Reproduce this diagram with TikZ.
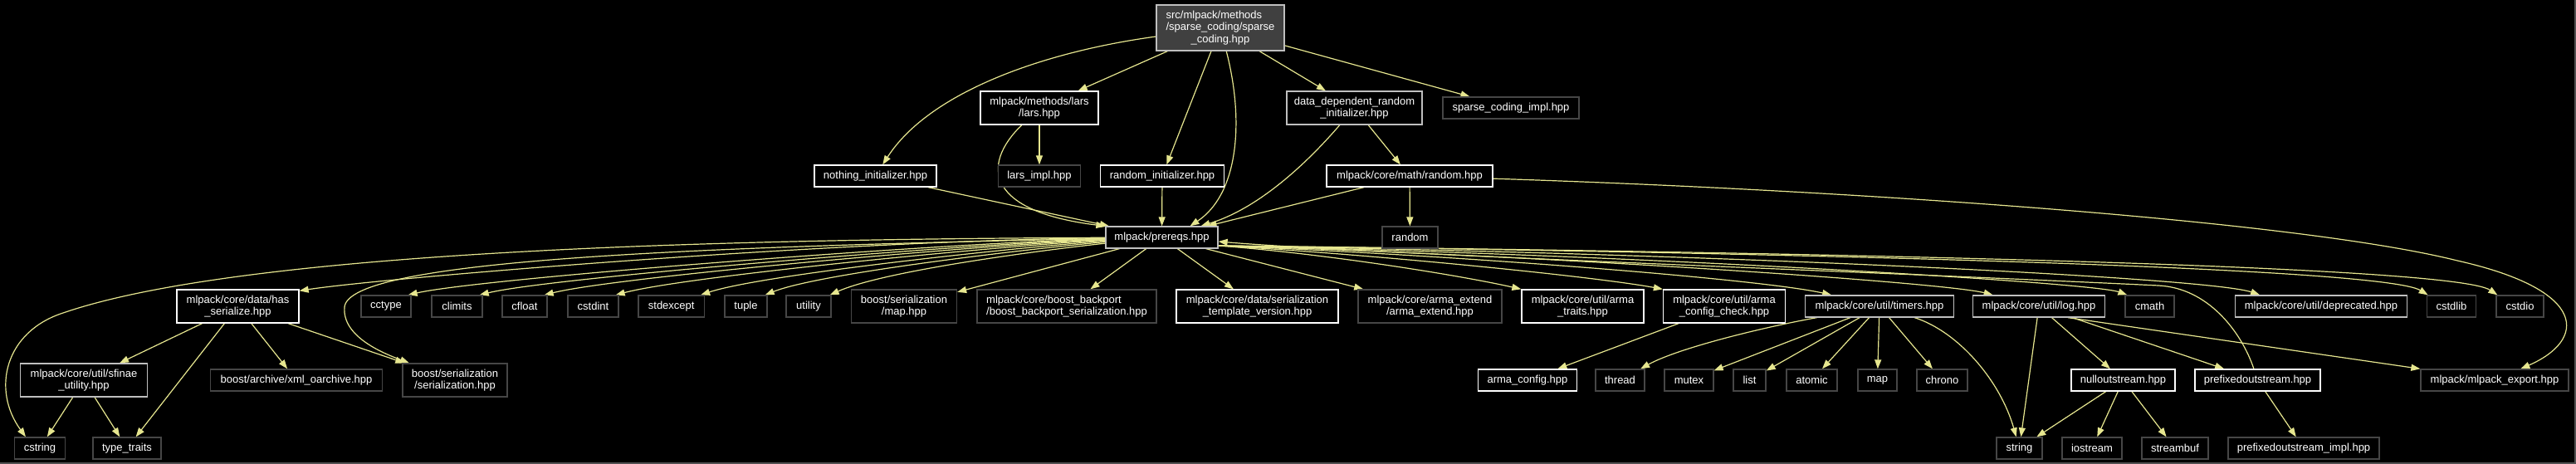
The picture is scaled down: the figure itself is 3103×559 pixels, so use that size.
\documentclass[tikz,border=0pt]{standalone}
\usepackage{fontspec}
\setmainfont{Liberation Sans}
\usetikzlibrary{arrows.meta}
\definecolor{edgec}{HTML}{E6E68F}
\definecolor{darkb}{HTML}{464646}
\definecolor{lightb}{HTML}{BFBFBF}
\definecolor{topfill}{HTML}{404040}
\definecolor{framec}{HTML}{505050}
\newlength\tmpw
\pgfdeclarelayer{back}
\pgfdeclarelayer{edges}
\pgfsetlayers{back,edges,main}
\begin{document}
\begin{tikzpicture}[x=1pt,y=-1pt,
  box/.style={draw, fill=black, line width=1.3pt, inner sep=0pt, minimum height=26pt, text=white, align=center, font=\fontsize{13}{14.5}\selectfont},
  wb/.style={box, draw=white},
  lb/.style={box, draw=lightb},
  db/.style={box, draw=darkb},
  two/.style={minimum height=40pt},
  edge/.style={draw=edgec, line width=1.2pt, -{Triangle[length=11pt,width=8pt]}},
]
\useasboundingbox (0,0) rectangle (3103,559);
\begin{pgfonlayer}{back}
\fill[black] (0,0) rectangle (3103,559);
\draw[framec, line width=2pt] (0,558) -- (3102,558) -- (3102,0);
\end{pgfonlayer}

% row 1
\node[lb, fill=topfill, minimum width=154pt, minimum height=55pt] (top) at (1470,33.5) {\settowidth{\tmpw}{/sparse\_coding/sparse}\makebox[\tmpw][l]{src/mlpack/methods}\\/sparse\_coding/sparse\\\_coding.hpp};
% row 2
\node[wb,two,minimum width=142pt] (lars) at (1252,130) {mlpack/methods/lars\\/lars.hpp};
\node[lb,two,minimum width=163pt] (ddri) at (1631.5,130) {data\_dependent\_random\\\_initializer.hpp};
\node[db,minimum width=164pt] (sci) at (1820,130) {sparse\_coding\_impl.hpp};
% row 3
\node[wb,minimum width=147pt] (nothing) at (1054.5,212) {nothing\_initializer.hpp};
\node[db,minimum width=98.5pt] (larsimpl) at (1252,212) {lars\_impl.hpp};
\node[wb,minimum width=148.5pt] (randinit) at (1400,212) {random\_initializer.hpp};
\node[wb,minimum width=200pt] (rnd) at (1698,212) {mlpack/core/math/random.hpp};
% row 4
\node[lb,minimum width=135pt] (prereqs) at (1399.5,286) {mlpack/prereqs.hpp};
\node[db,minimum width=67pt] (rstd) at (1698.5,286) {random};
% row 5
\node[wb,two,minimum width=147pt] (hasser) at (286.5,369) {mlpack/core/data/has\\\_serialize.hpp};
\node[db,minimum width=60pt] (cctype) at (465,369) {cctype};
\node[db,minimum width=61pt] (climits) at (550.5,369) {climits};
\node[db,minimum width=54pt] (cfloat) at (632,369) {cfloat};
\node[db,minimum width=61pt] (cstdint) at (714.5,369) {cstdint};
\node[db,minimum width=79.5pt] (stdexcept) at (808.7,369) {stdexcept};
\node[db,minimum width=51pt] (tuple) at (898.5,369) {tuple};
\node[db,minimum width=54pt] (utility) at (974,369) {utility};
\node[db,two,minimum width=127pt] (bsmap) at (1089,369) {boost/serialization\\/map.hpp};
\node[db,two,minimum width=216pt,align=left] (bbs) at (1285,369) {mlpack/core/boost\_backport\\/boost\_backport\_serialization.hpp};
\node[wb,two,minimum width=195pt] (stv) at (1514.5,369) {mlpack/core/data/serialization\\\_template\_version.hpp};
\node[db,two,minimum width=173pt] (armaext) at (1722.5,369) {mlpack/core/arma\_extend\\/arma\_extend.hpp};
\node[wb,two,minimum width=147pt] (armatraits) at (1906.5,369) {mlpack/core/util/arma\\\_traits.hpp};
\node[wb,two,minimum width=147pt] (armacc) at (2077,369) {mlpack/core/util/arma\\\_config\_check.hpp};
\node[lb,minimum width=178.5pt] (timers) at (2264,369) {mlpack/core/util/timers.hpp};
\node[lb,minimum width=159.5pt] (log) at (2456,369) {mlpack/core/util/log.hpp};
\node[db,minimum width=59pt] (cmath) at (2589.5,369) {cmath};
\node[lb,minimum width=206.5pt] (deprecated) at (2796,369) {mlpack/core/util/deprecated.hpp};
\node[db,minimum width=59.5pt] (cstdlib) at (2953,369) {cstdlib};
\node[db,minimum width=57pt] (cstdio) at (3035.5,369) {cstdio};
% row 6
\node[lb,two,minimum width=153.5pt] (sfinae) at (101,458) {mlpack/core/util/sfinae\\\_utility.hpp};
\node[db,minimum width=207pt] (xmloa) at (357,458) {boost/archive/xml\_oarchive.hpp};
\node[db,two,minimum width=126pt] (bss) at (548,458) {boost/serialization\\/serialization.hpp};
\node[wb,minimum width=119pt] (armacfg) at (1840,458) {arma\_config.hpp};
\node[db,minimum width=59pt] (thread) at (1951.5,458) {thread};
\node[db,minimum width=59pt] (mutex) at (2034.5,458) {mutex};
\node[db,minimum width=39pt] (list) at (2107.5,458) {list};
\node[db,minimum width=61pt] (atomic) at (2182.5,458) {atomic};
\node[db,minimum width=47pt] (map) at (2261.5,458) {map};
\node[db,minimum width=61pt] (chrono) at (2339.5,458) {chrono};
\node[wb,minimum width=125pt] (nullos) at (2557.5,458) {nulloutstream.hpp};
\node[wb,minimum width=151pt] (prefos) at (2719.5,458) {prefixedoutstream.hpp};
\node[db,minimum width=178pt] (mlexp) at (3005,458) {mlpack/mlpack\_export.hpp};
% row 7
\node[db,minimum width=61.6pt] (cstring) at (48,540) {cstring};
\node[db,minimum width=82pt] (typetraits) at (153,540) {type\_traits};
\node[db,minimum width=55pt] (string) at (2432.5,540) {string};
\node[db,minimum width=72pt] (iostream) at (2520,540) {iostream};
\node[db,minimum width=80pt] (streambuf) at (2620,540) {streambuf};
\node[db,minimum width=182pt] (pfimpl) at (2775,540) {prefixedoutstream\_impl.hpp};

\begin{pgfonlayer}{edges}
% edges from top
\draw[edge] (top) .. controls (1260,62) and (1120,110) .. (nothing);
\draw[edge] (top) -- (lars);
\draw[edge] (top) -- (randinit);
\draw[edge] (top) .. controls (1500,150) and (1490,235) .. ([xshift=34pt]prereqs.north);
\draw[edge] (top) -- (ddri);
\draw[edge] (top) -- (sci);
\draw[edge] (lars) -- (larsimpl);
\draw[edge] (lars) .. controls (1180,200) and (1190,255) .. (prereqs.north west);
\draw[edge] (nothing) -- (prereqs);
\draw[edge] (randinit) -- (prereqs);
\draw[edge] (ddri) .. controls (1580,190) and (1520,250) .. ([xshift=47pt]prereqs.north);
\draw[edge] (ddri) -- (rnd);
\draw[edge] (rnd) -- (prereqs);
\draw[edge] (rnd) -- (rstd);
\draw[edge] (rnd) .. controls (2200,228) and (2760,264) .. (2960,314) .. controls (3120,350) and (3115,410) .. (mlexp);

% prereqs, left fan
\draw[edge] (prereqs) .. controls (900,288) and (300,300) .. (76,377) .. controls (5,400) and (-10,470) .. ([xshift=-17pt]cstring.north);
\draw[edge] (prereqs) .. controls (800,298) and (420,315) .. (415,370) .. controls (412,405) and (460,425) .. (bss);
\draw[edge] (prereqs) .. controls (1000,290) and (460,335) .. ([yshift=-2pt]hasser.north east);
\draw[edge] (prereqs) .. controls (1150,292) and (580,335) .. ([xshift=-4pt]cctype.north east);
\draw[edge] (prereqs) .. controls (1180,293) and (665,334) .. ([xshift=-4pt]climits.north east);
\draw[edge] (prereqs) .. controls (1200,294) and (745,333) .. ([xshift=-4pt]cfloat.north east);
\draw[edge] (prereqs) .. controls (1220,295) and (830,332) .. ([xshift=-4pt]cstdint.north east);
\draw[edge] (prereqs) .. controls (1245,296) and (920,330) .. ([xshift=-5pt]stdexcept.north east);
\draw[edge] (prereqs) .. controls (1265,297) and (990,328) .. ([xshift=-3pt]tuple.north east);
\draw[edge] (prereqs) .. controls (1285,298) and (1070,324) .. ([xshift=-2pt]utility.north east);
\draw[edge] (prereqs) -- (bsmap);
\draw[edge] (prereqs) -- (bbs);
\draw[edge] (prereqs) -- (stv);
\draw[edge] (prereqs) -- (armaext);
% prereqs, right fan
\draw[edge] ([yshift=-10pt]prereqs.east) .. controls (1600,306) and (1760,332) .. (armatraits.north west);
\draw[edge] ([yshift=-10pt]prereqs.east) .. controls (1650,306) and (1920,333) .. (armacc.north west);
\draw[edge] ([yshift=-10pt]prereqs.east) .. controls (1750,307) and (2120,336) .. ([xshift=32pt]timers.north west);
\draw[edge] ([yshift=-10pt]prereqs.east) .. controls (1850,307) and (2340,340) .. ([xshift=25pt]log.north west);
\draw[edge] ([yshift=-10pt]prereqs.east) .. controls (1950,306) and (2520,340) .. ([xshift=3pt]cmath.north west);
\draw[edge] ([yshift=-10pt]prereqs.east) .. controls (2050,305) and (2660,334) .. ([xshift=30pt]deprecated.north west);
\draw[edge] ([yshift=-10pt]prereqs.east) .. controls (2150,304) and (2870,322) .. ([xshift=2pt]cstdlib.north west);
\draw[edge] ([yshift=-10pt]prereqs.east) .. controls (2200,304) and (2955,320) .. ([xshift=2pt]cstdio.north west);
% back edge
\draw[edge] (prefos) .. controls (2700,400) and (2660,347) .. (2600,344) .. controls (2200,325) and (1650,306) .. ([yshift=-5pt]prereqs.east);

% lower edges
\draw[edge] (hasser) -- (sfinae);
\draw[edge] (hasser) -- (typetraits);
\draw[edge] (hasser) -- (xmloa);
\draw[edge] (hasser) -- (bss);
\draw[edge] (sfinae) -- (cstring);
\draw[edge] (sfinae) -- (typetraits);
\draw[edge] (armacc) -- (armacfg);
\draw[edge] (timers) .. controls (2120,395) and (2020,420) .. (thread);
\draw[edge] (timers) -- (mutex);
\draw[edge] (timers) -- (list);
\draw[edge] (timers) -- (atomic);
\draw[edge] (timers) -- (map);
\draw[edge] (timers) -- (chrono);
\draw[edge] (timers) .. controls (2360,400) and (2410,460) .. (string);
\draw[edge] (log) -- (string);
\draw[edge] (log) -- (nullos);
\draw[edge] (log) -- (prefos);
\draw[edge] ([xshift=35pt]log.south) -- (mlexp.north west);
\draw[edge] (nullos) -- (string);
\draw[edge] (nullos) -- (iostream);
\draw[edge] (nullos) -- (streambuf);
\draw[edge] (prefos) -- (pfimpl);
\end{pgfonlayer}
\end{tikzpicture}
\end{document}
